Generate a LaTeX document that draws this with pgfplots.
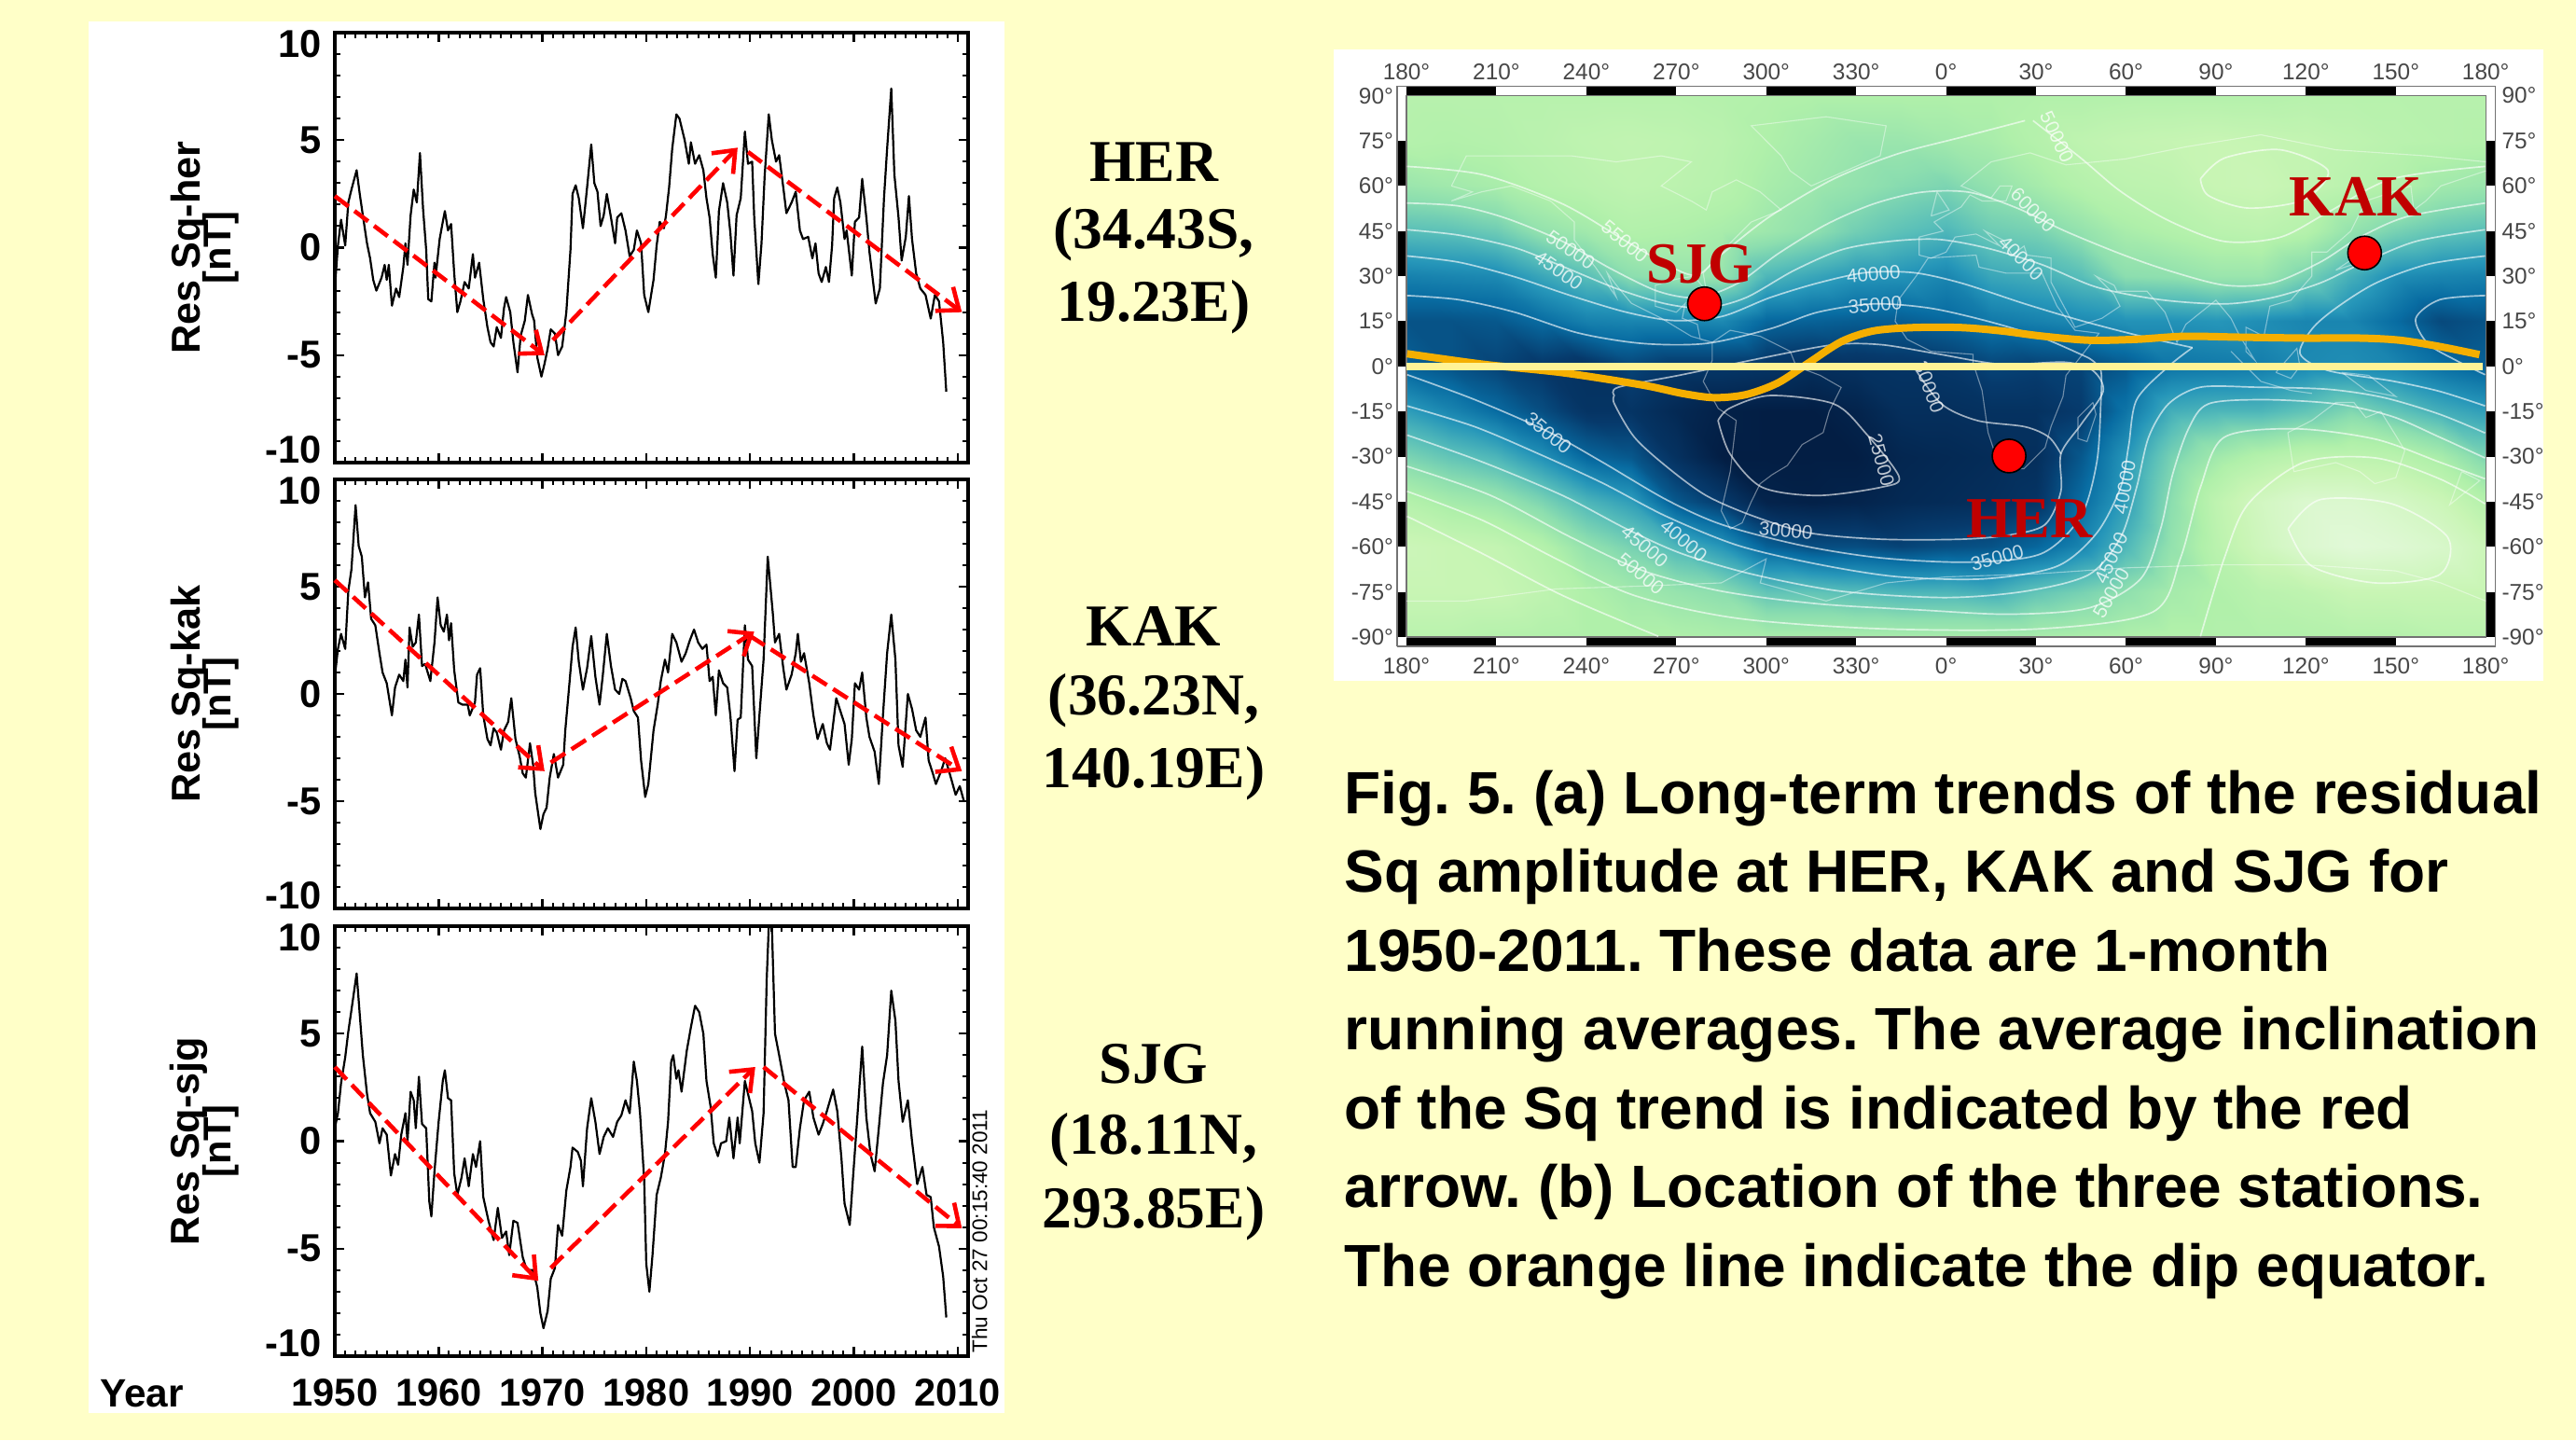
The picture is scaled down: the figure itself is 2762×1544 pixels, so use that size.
\documentclass[border=0pt]{standalone}
\usepackage{fontspec}
\usepackage{pgfplots}
\pgfplotsset{compat=1.18}
\usetikzlibrary{arrows.meta}
\setmainfont{Liberation Sans}
\newfontfamily\tnr{Liberation Serif}
\definecolor{bgy}{HTML}{FFFFC8}
\definecolor{stn}{HTML}{C00000}
\pgfplotsset{
 colormap={sq}{rgb255(0pt)=(3,30,68); rgb255(5pt)=(6,58,108); rgb255(10pt)=(8,108,162); rgb255(15pt)=(38,150,185); rgb255(20pt)=(88,190,185); rgb255(25pt)=(140,222,175); rgb255(30pt)=(176,240,170); rgb255(35pt)=(200,245,180); rgb255(45pt)=(232,250,225)},
 panel/.style={
  scale only axis, width=169.75pt, height=115.25pt, anchor=south west, clip=false,
  xmin=1950, xmax=2011, ymin=-10, ymax=10,
  xtick={1950,1960,1970,1980,1990,2000,2010}, minor x tick num=9,
  ytick={-10,-5,0,5,10}, minor y tick num=4,
  yticklabels={\raisebox{3.7pt}[7.5pt][0pt]{-10},-5,0,5,\raisebox{-2.8pt}[7.5pt][0pt]{10}},
  tick align=inside, major tick length=2.6pt, minor tick length=1.4pt,
  every tick/.style={black,line width=.6pt}, minor tick style={black,line width=.5pt},
  axis line style={black,line width=.85pt},
  yticklabel style={font=\bfseries\fontsize{10.4}{12}\selectfont},
  xticklabel style={font=\bfseries\fontsize{10.4}{12}\selectfont},
  xticklabels={},
 },
 blk/.style={black,line width=.55pt,line join=round,forget plot},
 arw/.style={red,line width=1.15pt,dash pattern=on 4.6pt off 2pt,-{Straight Barb[length=5pt,width=8pt,line width=1.15pt]},forget plot},
 zm/.style={x filter/.expression={(x-781)/3.76}, y filter/.expression={(790-y)/7.22}},
 cont/.style={white,opacity=.62,line width=.42pt,smooth,forget plot},
 coast/.style={white,opacity=.42,line width=.28pt,forget plot},
 maptick/.style={scale only axis, anchor=south west, at={(377pt,-170.75pt)}, width=289.3pt, height=145.1pt,
  clip=false, xmin=-180, xmax=180, ymin=-90, ymax=90,
  axis line style={draw=none}, tick style={draw=none},
  xtick={-180,-150,-120,-90,-60,-30,0,30,60,90,120,150,180},
  xticklabels={180°,210°,240°,270°,300°,330°,0°,30°,60°,90°,120°,150°,180°},
  ytick={-90,-75,-60,-45,-30,-15,0,15,30,45,60,75,90},
  yticklabels={-90°,-75°,-60°,-45°,-30°,-15°,0°,15°,30°,45°,60°,75°,90°},
  tick label style={font=\fontsize{6.1}{7}\selectfont,text=black!72}},
}
\newcommand\yl[2]{%
 \node[rotate=90,font=\bfseries\fontsize{10.8}{12}\selectfont] at (rel axis cs:-0.23,0.5) {#1};
 \node[rotate=90,font=\bfseries\fontsize{10.4}{12}\selectfont] at (rel axis cs:-0.18,0.5) {#2};}
\newcommand\zl[4]{\node[font=\fontsize{5.2}{6}\selectfont,text=white,opacity=.75,rotate=#3,inner sep=0pt] at (axis cs:{(#1-781)/3.76},{(790-#2)/7.22}) {#4};}
\begin{document}
\frenchspacing
\begin{tikzpicture}
\begin{scope}[x=.25pt,y=-.25pt]
\fill[bgy] (0,0) rectangle (2762,1544);
\fill[white] (95,23) rectangle (1077,1515);
\fill[white] (1430,53) rectangle (2727,730);
\end{scope}

% ---------- HER
\begin{axis}[panel, at={(89.75pt,-124pt)}]
\addplot[blk] coordinates {(1950,-1.9)(1950.3,.1)(1950.6,1.3)(1951,.1)(1951.3,2.1)(1951.6,2.7)(1952.1,3.6)(1952.4,2.5)(1952.7,1.5)(1953.1,.2)(1953.4,-.5)(1953.7,-1.5)(1954,-2)(1954.5,-1.4)(1954.8,-.8)(1955,-1.5)(1955.2,-.8)(1955.5,-2.7)(1955.9,-1.9)(1956.2,-2.3)(1956.6,-.9)(1956.8,.2)(1957,-.8)(1957.3,1.5)(1957.6,2.7)(1957.9,2.1)(1958.2,4.4)(1958.5,1.8)(1958.8,-.1)(1959,-2.4)(1959.3,-2.5)(1959.6,-.7)(1959.7,-1.4)(1960.1,.4)(1960.4,1.2)(1960.6,1.7)(1960.9,.8)(1961.2,1.1)(1961.5,-1.2)(1961.8,-3)(1962.1,-2.5)(1962.5,-1.6)(1962.9,-1.9)(1963.3,-.3)(1963.5,-1.4)(1963.9,-.7)(1964.3,-2.4)(1964.7,-3.7)(1965,-4.4)(1965.3,-4.6)(1965.6,-3.7)(1966,-4.2)(1966.3,-2.8)(1966.5,-2.3)(1966.9,-3)(1967.2,-4.4)(1967.6,-5.8)(1967.9,-4.1)(1968.3,-3.4)(1968.6,-2.2)(1969,-3.1)(1969.2,-3.4)(1969.5,-5.1)(1969.9,-6)(1970.2,-5.4)(1970.5,-4.7)(1970.8,-3.8)(1971.2,-4)(1971.5,-5)(1971.9,-4.6)(1972.3,-3)(1972.7,-.1)(1972.9,2.5)(1973.2,2.9)(1973.5,2.3)(1973.9,.9)(1974.3,2.8)(1974.7,4.8)(1975,3)(1975.3,2.6)(1975.6,1)(1975.9,1.5)(1976.2,2.5)(1976.6,1.4)(1977,.2)(1977.2,1.4)(1977.6,1.6)(1978,.8)(1978.4,-.4)(1978.8,-.1)(1979.1,.8)(1979.5,.2)(1979.8,-2.2)(1980.2,-3)(1980.7,-1.5)(1981,.1)(1981.3,1.2)(1981.7,.9)(1981.9,1.5)(1982.2,2.8)(1982.5,4.6)(1982.9,6.2)(1983.2,6)(1983.7,5)(1984.1,3.9)(1984.3,4.9)(1984.7,3.9)(1985.1,4.3)(1985.5,3.6)(1985.8,2.3)(1986.1,1.4)(1986.4,-.3)(1986.7,-1.4)(1987,1.7)(1987.4,3)(1987.8,2.1)(1988.1,.7)(1988.4,-1.3)(1988.7,1.5)(1989.1,2.3)(1989.5,5.4)(1989.8,3.9)(1990.2,4)(1990.4,1.4)(1990.8,-1.7)(1991.1,.2)(1991.4,3.3)(1991.8,6.2)(1992.1,5)(1992.5,4)(1992.8,4.3)(1993.2,2.8)(1993.5,1.6)(1994,2.1)(1994.4,2.6)(1994.8,.8)(1995.1,.4)(1995.6,.5)(1996,-.5)(1996.3,.2)(1996.6,-1.2)(1996.9,-1.6)(1997.3,-.9)(1997.6,-1.6)(1997.9,.1)(1998.1,2.3)(1998.4,2.8)(1998.7,2.1)(1999.1,.4)(1999.3,.8)(1999.8,-1.3)(2000.1,1.2)(2000.5,1.4)(2000.8,3.2)(2001.2,1.4)(2001.5,-.2)(2002.1,-2.6)(2002.5,-1.9)(2002.9,2.3)(2003.2,4.6)(2003.6,7.4)(2003.9,3.4)(2004.3,1.4)(2004.6,-.6)(2005,.5)(2005.3,2.4)(2005.6,.4)(2006,-1.2)(2006.4,-1.9)(2006.9,-2.2)(2007.4,-3.3)(2007.8,-2.2)(2008.2,-2.5)(2008.6,-4.4)(2008.9,-6.7)};
\addplot[arw] coordinates {(1950,2.4)(1970.2,-5)};
\addplot[arw] coordinates {(1971,-4.3)(1988.8,4.65)};
\addplot[arw] coordinates {(1989.8,4.45)(2010.4,-3)};
\yl{Res Sq-her}{[nT]}
\end{axis}

% ---------- KAK
\begin{axis}[panel, at={(89.75pt,-243.5pt)}, height=115pt]
\addplot[blk] coordinates {(1950,.8)(1950.3,2.1)(1950.6,2.8)(1951,2.1)(1951.3,4.8)(1951.6,5.8)(1952,8.8)(1952.3,6.9)(1952.6,6.4)(1952.9,4.5)(1953.2,5.2)(1953.5,3.5)(1953.9,3.2)(1954.3,1.9)(1954.6,1)(1955,.5)(1955.5,-1)(1955.8,.3)(1956.2,.9)(1956.6,.6)(1956.8,1.6)(1957,.3)(1957.2,3.1)(1957.5,2.2)(1957.8,2.4)(1958.1,3.7)(1958.4,1.3)(1958.7,1.4)(1959.2,.6)(1959.6,2.4)(1959.9,4.5)(1960.2,3.2)(1960.5,2.9)(1960.8,3.7)(1961,2.5)(1961.2,3.3)(1961.5,1.1)(1961.9,-.4)(1962.3,-.5)(1962.8,-.5)(1963,-1)(1963.5,-.4)(1963.7,.9)(1964,1.2)(1964.3,-1)(1964.7,-2.1)(1965,-2.4)(1965.3,-1.6)(1965.6,-1.8)(1966,-2.6)(1966.3,-1.7)(1966.7,-1.3)(1967,-.2)(1967.4,-2.1)(1967.8,-2.9)(1968.1,-3.7)(1968.4,-3.9)(1968.8,-2.3)(1969.1,-3.3)(1969.3,-4.6)(1969.8,-6.3)(1970.1,-5.6)(1970.4,-5.3)(1970.7,-3.9)(1971.1,-2.8)(1971.5,-3.9)(1972,-3.3)(1972.2,-1.7)(1972.6,.5)(1972.9,2.2)(1973.2,3.1)(1973.5,1.5)(1973.9,.2)(1974.3,1.2)(1974.7,2.7)(1975.1,.8)(1975.5,-.5)(1975.8,.8)(1976.2,2.8)(1976.6,1.3)(1977,.2)(1977.4,0)(1977.7,.7)(1978,.6)(1978.5,-.2)(1978.8,-.8)(1979.2,-1.1)(1979.5,-3.1)(1979.9,-4.8)(1980.2,-4.2)(1980.7,-1.7)(1981.1,-.5)(1981.4,.6)(1981.8,1.6)(1982.1,1)(1982.5,2.8)(1982.9,2.4)(1983.4,1.5)(1983.8,1.9)(1984.2,2.5)(1984.6,3)(1985,2.4)(1985.4,2.1)(1985.8,2.3)(1986.1,.6)(1986.4,.8)(1986.7,-1)(1987,1.1)(1987.4,.5)(1987.8,.3)(1988.1,-1)(1988.5,-3.6)(1988.8,-1.2)(1989.1,-1.1)(1989.5,3.2)(1989.8,1.6)(1990.2,1.3)(1990.6,-3)(1990.9,-1)(1991.3,1.6)(1991.7,6.4)(1992,4.8)(1992.2,3.7)(1992.4,2.4)(1992.8,2.8)(1993.2,1.2)(1993.5,.2)(1994,.9)(1994.4,1.9)(1994.6,2.8)(1994.9,1.5)(1995.2,1.9)(1995.7,.5)(1996.1,-1)(1996.5,-2.1)(1997,-1.4)(1997.4,-2.3)(1997.7,-2.6)(1998,-1.4)(1998.3,-.2)(1998.7,-.8)(1999.1,-1.4)(1999.5,-3.3)(1999.8,-2.1)(2000.1,.5)(2000.5,.2)(2000.8,1)(2001.2,-1.1)(2001.5,-2)(2002,-2.7)(2002.4,-4.2)(2002.8,-1)(2003.2,1.9)(2003.6,3.7)(2004,1.6)(2004.3,-2.4)(2004.7,-3.4)(2005.2,0)(2005.6,-.7)(2006,-1.7)(2006.4,-2)(2006.9,-1.1)(2007.2,-3.1)(2007.6,-3.7)(2007.9,-4.2)(2008.4,-3.6)(2008.8,-3)(2009.4,-4)(2009.8,-4.7)(2010.2,-4.3)(2010.6,-5)};
\addplot[arw] coordinates {(1950,5.3)(1970.2,-3.6)};
\addplot[arw] coordinates {(1970.8,-3.2)(1990.4,2.9)};
\addplot[arw] coordinates {(1990,2.7)(2010.4,-3.6)};
\yl{Res Sq-kak}{[nT]}
\end{axis}

% ---------- SJG
\begin{axis}[panel, at={(89.75pt,-363.5pt)},
  xticklabels={1950,1960,1970,1980,1990,2000,2010}, xticklabel style={yshift=-2.6pt}]
\addplot[blk] coordinates {(1950,.6)(1950.3,1.3)(1950.6,2.7)(1951,3.9)(1951.3,5.1)(1951.6,6.1)(1952.1,7.8)(1952.4,5.9)(1952.7,4)(1953.1,2.2)(1953.4,1.3)(1953.9,.9)(1954.3,-.1)(1954.6,.6)(1955,.3)(1955.4,-1.6)(1955.8,-.6)(1956.1,-1.1)(1956.4,.3)(1956.8,1.3)(1957,0)(1957.3,2.3)(1957.6,1.9)(1957.8,.6)(1958.1,3)(1958.4,.8)(1958.8,.6)(1959.1,-2.8)(1959.3,-3.5)(1959.6,-1.4)(1960,.9)(1960.4,2.8)(1960.6,3.3)(1960.9,2)(1961.2,1.9)(1961.5,-1.5)(1961.8,-2.5)(1962.2,-1.7)(1962.5,-.8)(1962.9,-2.1)(1963.3,-.6)(1963.6,-1.2)(1964,0)(1964.3,-2.6)(1964.8,-3.7)(1965.3,-4.6)(1965.7,-3.1)(1966.1,-4.5)(1966.5,-4.2)(1966.8,-5.3)(1967.2,-3.7)(1967.6,-3.8)(1968.1,-5.4)(1968.5,-6)(1969.1,-6)(1969.5,-6.8)(1969.8,-8)(1970.1,-8.7)(1970.5,-7.9)(1970.8,-6.4)(1971.2,-5.9)(1971.5,-3.9)(1971.9,-4.4)(1972.3,-2.3)(1972.7,-1.2)(1972.9,-.3)(1973.4,-.5)(1973.7,-.9)(1973.9,-2.1)(1974.3,.6)(1974.7,2)(1975.1,.9)(1975.5,-.6)(1975.9,.2)(1976.3,.6)(1976.8,.2)(1977.2,.9)(1977.6,1.2)(1978,1.9)(1978.4,1.3)(1978.8,3.7)(1979.1,2.8)(1979.4,1.3)(1979.8,-1.8)(1980,-5.7)(1980.3,-7)(1980.6,-5.3)(1981,-2.5)(1981.4,-1.7)(1981.8,-.6)(1982.1,.9)(1982.4,3.7)(1982.6,4)(1982.9,2.9)(1983.1,3.3)(1983.4,2.3)(1983.9,4.2)(1984.3,5.3)(1984.7,6.3)(1985.1,6)(1985.5,5)(1985.8,2.8)(1986.2,1.6)(1986.5,-.1)(1986.9,-.7)(1987.2,-.1)(1987.7,0)(1988,1.1)(1988.4,-.8)(1988.8,1.1)(1989,-.1)(1989.5,2.8)(1989.8,2.2)(1990.2,1.4)(1990.5,-.1)(1990.9,-1)(1991.3,1.3)(1991.6,7.5)(1991.8,10)(1992.1,10)(1992.4,5)(1992.8,4)(1993.3,2.7)(1993.7,1.9)(1994.1,-1.2)(1994.4,-1.2)(1994.8,.6)(1995.2,1.9)(1995.7,2.3)(1996.1,1.1)(1996.6,.3)(1997,.8)(1997.4,1.4)(1998,2.4)(1998.4,1.4)(1998.8,-.8)(1999.1,-2.9)(1999.6,-3.9)(1999.9,-1.8)(2000.3,.9)(2000.8,4.4)(2001.2,1.1)(2001.6,-.6)(2002,-1.4)(2002.4,.6)(2002.8,2.7)(2003.2,4)(2003.6,7)(2004,5.6)(2004.3,2.8)(2004.7,.9)(2005.2,1.9)(2005.6,0)(2006.1,-2)(2006.6,-1.2)(2007,-2.5)(2007.4,-2.6)(2007.7,-4)(2008.2,-4.9)(2008.6,-6.3)(2008.9,-8.2)};
\addplot[arw] coordinates {(1950,3.45)(1969.6,-6.5)};
\addplot[arw] coordinates {(1970.8,-5.9)(1990.5,3.45)};
\addplot[arw] coordinates {(1991.3,3.45)(2010.4,-4.05)};
\yl{Res Sq-sjg}{[nT]}
\node[rotate=90,anchor=west,inner sep=0pt,font=\fontsize{5.65}{6}\selectfont] at (rel axis cs:1.018,0.006) {Thu Oct 27 00:15:40 2011};
\end{axis}

% ---------- map field
\begin{axis}[scale only axis, anchor=south west, at={(377pt,-170.75pt)}, width=289.3pt, height=145.1pt,
 hide axis, view={0}{90}, xmin=-180, xmax=180, ymin=-90, ymax=90,
 colormap name=sq, point meta min=25, point meta max=70]
\addplot3[surf, shader=interp, mesh/cols=13, mesh/rows=25, point meta=z] coordinates {
(-180,90,56.5)(-180,75,56)(-180,60,52)(-180,45,45)(-180,30,37.5)(-180,15,32.5)(-180,0,34)(-180,-15,41)(-180,-30,48.5)(-180,-45,56)(-180,-60,61)(-180,-75,60)(-180,-90,57)
(-165,90,56.5)(-165,75,55.5)(-165,60,53)(-165,45,45.5)(-165,30,38)(-165,15,32.5)(-165,0,32.5)(-165,-15,38)(-165,-30,46)(-165,-45,53.5)(-165,-60,60)(-165,-75,60)(-165,-90,57)
(-150,90,56.5)(-150,75,56)(-150,60,54)(-150,45,47)(-150,30,38.5)(-150,15,33)(-150,0,31)(-150,-15,35)(-150,-30,44)(-150,-45,52)(-150,-60,59)(-150,-75,60)(-150,-90,56)
(-135,90,56.5)(-135,75,57)(-135,60,56)(-135,45,51)(-135,30,42)(-135,15,35)(-135,0,29.5)(-135,-15,32)(-135,-30,39.5)(-135,-45,48.5)(-135,-60,56)(-135,-75,58)(-135,-90,55.5)
(-120,90,56.5)(-120,75,58)(-120,60,57)(-120,45,53)(-120,30,45)(-120,15,37.5)(-120,0,28.5)(-120,-15,29)(-120,-30,34.5)(-120,-45,44)(-120,-60,51)(-120,-75,55)(-120,-90,55)
(-105,90,56.5)(-105,75,58.5)(-105,60,58)(-105,45,55.5)(-105,30,50)(-105,15,38)(-105,0,31)(-105,-15,29)(-105,-30,33)(-105,-45,41)(-105,-60,48)(-105,-75,53)(-105,-90,55)
(-90,90,56.5)(-90,75,58)(-90,60,57.5)(-90,45,55)(-90,30,51.5)(-90,15,38)(-90,0,29.5)(-90,-15,27)(-90,-30,28.5)(-90,-45,33)(-90,-60,44)(-90,-75,51.5)(-90,-90,55)
(-75,90,56)(-75,75,57)(-75,60,56.5)(-75,45,54)(-75,30,51.5)(-75,15,38.5)(-75,0,29.5)(-75,-15,25.5)(-75,-30,25)(-75,-45,30)(-75,-60,40)(-75,-75,50)(-75,-90,54.5)
(-60,90,55.5)(-60,75,55)(-60,60,54)(-60,45,52.5)(-60,30,44)(-60,15,34.5)(-60,0,29)(-60,-15,24)(-60,-30,23)(-60,-45,26)(-60,-60,34)(-60,-75,46)(-60,-90,54)
(-45,90,55)(-45,75,53.5)(-45,60,52.5)(-45,45,50.5)(-45,30,42)(-45,15,34)(-45,0,28)(-45,-15,23.5)(-45,-30,22.5)(-45,-45,25.5)(-45,-60,32)(-45,-75,46)(-45,-90,54)
(-30,90,55)(-30,75,52)(-30,60,51)(-30,45,47.5)(-30,30,40)(-30,15,33.5)(-30,0,28.5)(-30,-15,26)(-30,-30,24)(-30,-45,26)(-30,-60,32)(-30,-75,45)(-30,-90,54)
(-15,90,55)(-15,75,52)(-15,60,49.5)(-15,45,45.5)(-15,30,39.5)(-15,15,33.5)(-15,0,29)(-15,-15,28)(-15,-30,26.5)(-15,-45,27)(-15,-60,31)(-15,-75,44)(-15,-90,54)
(0,90,55)(0,75,53)(0,60,48.5)(0,45,44)(0,30,38)(0,15,34.5)(0,0,29.5)(0,-15,28)(0,-30,27)(0,-45,27.5)(0,-60,32)(0,-75,44)(0,-90,54)
(15,90,55)(15,75,54)(15,60,51)(15,45,47)(15,30,42)(15,15,36.5)(15,0,31)(15,-15,28.5)(15,-30,27.5)(15,-45,28)(15,-60,32.5)(15,-75,43)(15,-90,54)
(30,90,55.5)(30,75,56)(30,60,53.5)(30,45,48)(30,30,43)(30,15,37.5)(30,0,30.5)(30,-15,28.5)(30,-30,28)(30,-45,29)(30,-60,34.5)(30,-75,46)(30,-90,54)
(45,90,55.5)(45,75,58)(45,60,56)(45,45,51)(45,30,45)(45,15,38.5)(45,0,31)(45,-15,30)(45,-30,33)(45,-45,35)(45,-60,38)(45,-75,48)(45,-90,54.5)
(60,90,56)(60,75,59)(60,60,57.5)(60,45,54)(60,30,50)(60,15,39.5)(60,0,33)(60,-15,36)(60,-30,40)(60,-45,41)(60,-60,44)(60,-75,50.5)(60,-90,55)
(75,90,56)(75,75,59.5)(75,60,58)(75,45,55.5)(75,30,50.5)(75,15,39.5)(75,0,36)(75,-15,43)(75,-30,48)(75,-45,50)(75,-60,51)(75,-75,53.5)(75,-90,55.5)
(90,90,56)(90,75,60)(90,60,60)(90,45,57)(90,30,52)(90,15,40)(90,0,36.5)(90,-15,44)(90,-30,53)(90,-45,58)(90,-60,57)(90,-75,55)(90,-90,55.5)
(105,90,56)(105,75,59.5)(105,60,60.5)(105,45,57.5)(105,30,52)(105,15,39)(105,0,37)(105,-15,44)(105,-30,56)(105,-45,63)(105,-60,62)(105,-75,57)(105,-90,55.5)
(120,90,56.5)(120,75,59)(120,60,59)(120,45,56)(120,30,48)(120,15,38)(120,0,38.5)(120,-15,46)(120,-30,58)(120,-45,66)(120,-60,66)(120,-75,58)(120,-90,55.5)
(135,90,56.5)(135,75,58)(135,60,57)(135,45,51)(135,30,43)(135,15,38)(135,0,39)(135,-15,49)(135,-30,58)(135,-45,66)(135,-60,68)(135,-75,60)(135,-90,56)
(150,90,56.5)(150,75,57)(150,60,55.5)(150,45,48)(150,30,39)(150,15,35)(150,0,38)(150,-15,46)(150,-30,57)(150,-45,64)(150,-60,67)(150,-75,60)(150,-90,56)
(165,90,56.5)(165,75,56.5)(165,60,53)(165,45,46)(165,30,38)(165,15,31.5)(165,0,35.5)(165,-15,43)(165,-30,54)(165,-45,61)(165,-60,65)(165,-75,60)(165,-90,57)
(180,90,56.5)(180,75,56)(180,60,52)(180,45,45)(180,30,37.5)(180,15,32.5)(180,0,34)(180,-15,41)(180,-30,48.5)(180,-45,56)(180,-60,61)(180,-75,60)(180,-90,57)
};
\end{axis}

% ---------- map upper and right tick labels
\begin{axis}[maptick, xticklabel pos=upper, yticklabel pos=right, xticklabel style={yshift=.8pt}, yticklabel style={xshift=.8pt}]
\end{axis}

% ---------- map overlay
\begin{axis}[maptick, xticklabel pos=lower, yticklabel pos=left, xticklabel style={yshift=-2.2pt}]
% frame bars
\addplot[white,line width=2.5pt,forget plot] coordinates {(-183.2,91.55)(183.2,91.55)};
\addplot[white,line width=2.5pt,forget plot] coordinates {(-183.2,-91.55)(183.2,-91.55)};
\addplot[white,line width=2.4pt,forget plot] coordinates {(-181.55,-93.1)(-181.55,93.1)};
\addplot[white,line width=2.4pt,forget plot] coordinates {(181.55,-93.1)(181.55,93.1)};
\addplot[black,line width=2.5pt,forget plot,unbounded coords=jump] coordinates {(-180,91.55)(-150,91.55)(nan,nan)(-120,91.55)(-90,91.55)(nan,nan)(-60,91.55)(-30,91.55)(nan,nan)(0,91.55)(30,91.55)(nan,nan)(60,91.55)(90,91.55)(nan,nan)(120,91.55)(150,91.55)};
\addplot[black,line width=2.5pt,forget plot,unbounded coords=jump] coordinates {(-180,-91.55)(-150,-91.55)(nan,nan)(-120,-91.55)(-90,-91.55)(nan,nan)(-60,-91.55)(-30,-91.55)(nan,nan)(0,-91.55)(30,-91.55)(nan,nan)(60,-91.55)(90,-91.55)(nan,nan)(120,-91.55)(150,-91.55)};
\addplot[black,line width=2.4pt,forget plot,unbounded coords=jump] coordinates {(-181.55,-90)(-181.55,-75)(nan,nan)(-181.55,-60)(-181.55,-45)(nan,nan)(-181.55,-30)(-181.55,-15)(nan,nan)(-181.55,0)(-181.55,15)(nan,nan)(-181.55,30)(-181.55,45)(nan,nan)(-181.55,60)(-181.55,75)};
\addplot[black,line width=2.4pt,forget plot,unbounded coords=jump] coordinates {(181.55,-90)(181.55,-75)(nan,nan)(181.55,-60)(181.55,-45)(nan,nan)(181.55,-30)(181.55,-15)(nan,nan)(181.55,0)(181.55,15)(nan,nan)(181.55,30)(181.55,45)(nan,nan)(181.55,60)(181.55,75)};
\addplot[black!55,line width=.3pt,forget plot] coordinates {(-183.1,-93.1)(183.1,-93.1)(183.1,93.1)(-183.1,93.1)(-183.1,-93.1)};
\addplot[black!55,line width=.3pt,forget plot] coordinates {(-180,-90)(180,-90)(180,90)(-180,90)(-180,-90)};
% coasts (lon, lat)
\addplot[coast] coordinates {(-165,60)(-160,70)(-140,70)(-125,70)(-110,68)(-95,70)(-85,68)(-95,60)(-85,55)(-80,52)(-78,58)(-70,62)(-62,58)(-55,52)(-65,48)(-70,43)(-75,38)(-81,31)(-80,25)(-84,30)(-90,29)(-97,27)(-97,20)(-90,18)(-87,21)(-88,16)(-83,14)(-82,9)(-78,8)(-85,10)(-95,16)(-105,21)(-110,27)(-113,31)(-110,23)(-117,33)(-124,42)(-124,48)(-132,55)(-145,60)(-155,58)(-165,55)(-158,58)(-165,60)};
\addplot[coast] coordinates {(-78,8)(-72,12)(-62,10)(-52,5)(-50,0)(-42,-3)(-35,-7)(-39,-15)(-41,-22)(-48,-26)(-53,-33)(-58,-36)(-62,-39)(-65,-45)(-68,-52)(-72,-54)(-75,-48)(-72,-35)(-70,-18)(-76,-14)(-81,-5)(-78,2)(-78,8)};
\addplot[coast] coordinates {(-6,36)(10,37)(11,33)(20,31)(32,31)(37,20)(43,12)(51,11)(40,-3)(39,-10)(35,-20)(33,-27)(26,-34)(18,-34)(14,-22)(12,-8)(9,1)(9,4)(-5,5)(-13,9)(-17,15)(-16,22)(-10,30)(-6,36)};
\addplot[coast] coordinates {(-9,37)(-9,43)(-1,45)(-4,48)(5,53)(8,57)(12,55)(20,55)(22,60)(18,60)(15,56)(5,60)(15,68)(28,71)(40,67)(60,69)(80,73)(105,77)(130,72)(160,70)(180,68)};
\addplot[coast] coordinates {(180,65)(165,60)(160,55)(156,52)(155,60)(140,55)(135,45)(127,38)(122,38)(122,30)(115,22)(108,20)(106,10)(100,13)(100,5)(103,2)(98,10)(95,16)(90,22)(80,14)(77,8)(73,18)(67,25)(57,25)(56,27)(50,30)(56,24)(58,20)(52,16)(43,13)(35,28)(35,36)(27,37)(26,40)(22,37)(19,42)(13,45)(18,40)(10,44)(3,43)(0,38)(-5,36)(-9,37)};
\addplot[coast] coordinates {(114,-22)(122,-18)(130,-12)(136,-12)(140,-17)(145,-15)(150,-23)(153,-28)(150,-37)(143,-39)(138,-35)(130,-32)(116,-35)(114,-22)};
\addplot[coast] coordinates {(-45,60)(-22,70)(-20,80)(-40,83)(-65,80)(-55,70)(-52,65)(-45,60)};
\addplot[coast] coordinates {(-180,-78)(-160,-78)(-130,-74)(-100,-73)(-75,-72)(-60,-64)(-62,-72)(-40,-78)(-20,-72)(0,-70)(30,-69)(60,-67)(90,-66)(120,-66)(150,-68)(165,-72)(180,-78)};
\addplot[coast] coordinates {(49,-12)(50,-16)(47,-25)(44,-24)(44,-17)(49,-12)};
\addplot[coast] coordinates {(130,32)(136,34)(141,36)(141,41)(136,36)(130,32)};
\addplot[coast] coordinates {(95,5)(105,-5)(115,-8)(122,-9)};
\addplot[coast] coordinates {(110,-2)(117,6)(118,0)(115,-4)(110,-2)};
\addplot[coast] coordinates {(132,-2)(141,-3)(150,-10)(140,-8)(132,-2)};
\addplot[coast] coordinates {(172,-35)(178,-38)(168,-46)(172,-35)};
\addplot[coast] coordinates {(-5,50)(1,52)(-3,58)(-5,50)};
% contours, traced on the picture
\addplot[cont,zm] coordinates {(105,310)(200,330)(300,400)(380,490)(440,555)(470,570)(500,520)(560,430)(640,340)(720,280)(800,240)(880,200)};
\addplot[cont,zm] coordinates {(890,200)(950,290)(1000,370)(1060,440)(1130,490)(1200,480)(1260,420)(1340,340)(1457,310)};
\addplot[cont,zm] coordinates {(1100,340)(1130,290)(1200,270)(1260,320)(1230,390)(1160,410)(1110,380)(1100,340)};
\addplot[cont,zm] coordinates {(105,398)(170,405)(230,435)(300,490)(360,555)(420,610)(470,625)(520,590)(570,520)(630,450)(690,400)(750,372)(810,372)(870,410)(930,465)(1000,520)(1060,560)(1130,595)(1190,590)(1250,540)(1300,480)(1360,430)(1457,398)};
\addplot[cont,zm] coordinates {(105,462)(170,475)(240,505)(300,550)(370,605)(430,640)(480,650)(530,625)(590,560)(650,510)(710,490)(770,485)(830,505)(900,545)(970,600)(1050,630)(1130,640)(1190,625)(1250,590)(1300,545)(1370,490)(1457,462)};
\addplot[cont,zm] coordinates {(105,525)(170,540)(240,575)(310,620)(380,660)(440,680)(500,670)(560,625)(620,590)(680,565)(740,565)(800,590)(880,640)(950,680)(1020,715)(1090,745)};
\addplot[cont,zm] coordinates {(1457,525)(1385,545)(1320,590)(1270,650)(1240,700)(1225,760)(1260,800)(1340,825)(1400,850)(1457,885)};
\addplot[cont,zm] coordinates {(105,620)(170,630)(240,660)(320,710)(400,735)(480,735)(560,700)(620,660)(690,640)(760,650)(830,680)(900,720)(960,770)};
\addplot[cont,zm] coordinates {(1457,620)(1400,630)(1370,675)(1385,735)(1420,775)(1457,810)};
\addplot[cont,zm] coordinates {(105,810)(190,870)(280,945)(350,1020)(430,1110)(500,1170)(600,1220)(700,1250)(810,1260)(900,1240)(950,1150)(970,1020)(975,880)(975,800)(960,770)};
\addplot[cont,zm] coordinates {(105,885)(190,935)(270,1000)(350,1070)(430,1150)(520,1220)(620,1265)(720,1295)(830,1300)(920,1270)(970,1190)(1000,1080)(1010,980)(1020,870)(1060,790)(1090,745)};
\addplot[cont,zm] coordinates {(1457,950)(1400,905)(1330,865)(1260,845)(1170,840)(1100,840)(1060,880)(1035,960)(1020,1080)(1000,1200)(960,1290)(880,1330)(780,1345)(650,1330)(540,1290)(450,1240)(380,1180)(300,1100)(200,1020)(105,955)};
\addplot[cont,zm] coordinates {(1457,1010)(1400,960)(1340,910)(1270,880)(1180,870)(1110,880)(1085,940)(1065,1050)(1050,1180)(1025,1300)(960,1370)(860,1385)(750,1375)(620,1360)(500,1330)(400,1280)(310,1200)(210,1100)(105,1030)};
\addplot[cont,zm] coordinates {(105,1090)(200,1160)(290,1250)(390,1340)(520,1395)(700,1420)(900,1420)(1040,1380)(1075,1250)(1100,1080)(1130,960)(1220,940)(1320,965)(1400,1020)(1457,1060)};
\addplot[cont,zm] coordinates {(105,1150)(200,1240)(300,1340)(420,1438)};
\addplot[cont,zm] coordinates {(1100,1438)(1130,1250)(1160,1120)(1230,1020)(1320,1010)(1400,1060)(1457,1120)};
\addplot[cont,zm] coordinates {(1210,1180)(1250,1110)(1340,1120)(1410,1200)(1400,1290)(1320,1310)(1240,1270)(1210,1180)};
\addplot[cont,zm] coordinates {(365,860)(370,840)(450,810)(550,770)(640,738)(700,738)(770,760)(850,785)(930,780)(965,800)(978,850)(950,930)(925,1000)(925,1090)(905,1170)(860,1195)(800,1205)(700,1205)(610,1190)(540,1150)(480,1100)(430,1030)(390,960)(365,880)(365,860)};
\addplot[cont,zm] coordinates {(740,790)(775,880)(820,920)(880,935)(910,960)(925,1000)};
\addplot[cont,zm] coordinates {(495,920)(510,1000)(550,1080)(620,1100)(700,1080)(722,1055)(680,950)(640,880)(560,860)(510,890)(495,920)};
% contour labels
\zl{310}{510}{-35}{50000}
\zl{295}{560}{-35}{45000}
\zl{690}{568}{5}{40000}
\zl{692}{642}{5}{35000}
\zl{378}{490}{-40}{55000}
\zl{890}{415}{-45}{60000}
\zl{920}{240}{-65}{50000}
\zl{875}{530}{-45}{40000}
\zl{282}{950}{-40}{35000}
\zl{700}{1015}{-75}{25000}
\zl{580}{1185}{-5}{30000}
\zl{452}{1208}{-40}{40000}
\zl{403}{1222}{-40}{45000}
\zl{398}{1288}{-40}{50000}
\zl{845}{1250}{15}{35000}
\zl{1005}{1080}{80}{40000}
\zl{988}{1250}{65}{45000}
\zl{988}{1335}{60}{50000}
\zl{760}{840}{-70}{30000}
% dip equator and the zero line
\addplot[color={rgb,255:red,245;green,175;blue,0},line width=2pt,smooth,forget plot] coordinates {(-179.8,4.2)(-154.5,.7)(-127.9,-2.1)(-101.3,-6.2)(-88,-9)(-77.4,-10.4)(-66.8,-9.4)(-56.1,-5.5)(-45.5,1.4)(-34.8,8.3)(-24.2,11.8)(-10.9,12.9)(5,12.9)(18.4,11.8)(31.6,10.1)(47.6,8.7)(63.6,9)(79.5,10)(98.1,9.7)(119.4,9.4)(138,9.4)(151.3,8.7)(164.6,6.6)(177.9,3.9)};
\addplot[color={rgb,255:red,255;green,243;blue,150},line width=2pt,forget plot] coordinates {(-180,0)(179,0)};
% stations
\addplot[only marks,mark=*,mark size=4.5pt,mark options={fill=red,draw=black,line width=.4pt},forget plot] coordinates {(-80.6,20.8)(139.6,37.7)(21,-29.8)};
\node[font=\tnr\bfseries\fontsize{15.6}{18}\selectfont,text=stn] at (axis cs:136.7,56.5) {KAK};
\node[font=\tnr\bfseries\fontsize{15.6}{18}\selectfont,text=stn] at (axis cs:-82.2,33.9) {SJG};
\node[font=\tnr\bfseries\fontsize{15.6}{18}\selectfont,text=stn] at (axis cs:27.7,-50.6) {HER};
\end{axis}

\begin{scope}[x=.25pt,y=-.25pt]
\node[font=\bfseries\fontsize{10.6}{12}\selectfont,inner sep=0pt] at (152,1494) {Year};
% station names
\foreach \yy/\tx in {174/HER,251/{(34.43S,},329/{19.23E)},671/KAK,751/{(36.23N,},829/{140.19E)},1141/SJG,1222/{(18.11N,},1301/{293.85E)}}
 \node[font=\tnr\bfseries\fontsize{15.9}{18}\selectfont,inner sep=0pt] at (1237,\yy) {\tx};
% caption
\foreach \yy/\tx in {872/{Fig. 5. (a) Long-term trends of the residual},956/{Sq amplitude at HER, KAK and SJG for},1041/{1950-2011. These data are 1-month},1125/{running averages. The average inclination},1210/{of the Sq trend is indicated by the red},1294/{arrow. (b) Location of the three stations.},1379/{The orange line indicate the dip equator.}}
 \node[font=\bfseries\fontsize{16}{18}\selectfont,anchor=base west,inner sep=0pt] at (1441,\yy) {\tx};
\end{scope}
\end{tikzpicture}
\end{document}
